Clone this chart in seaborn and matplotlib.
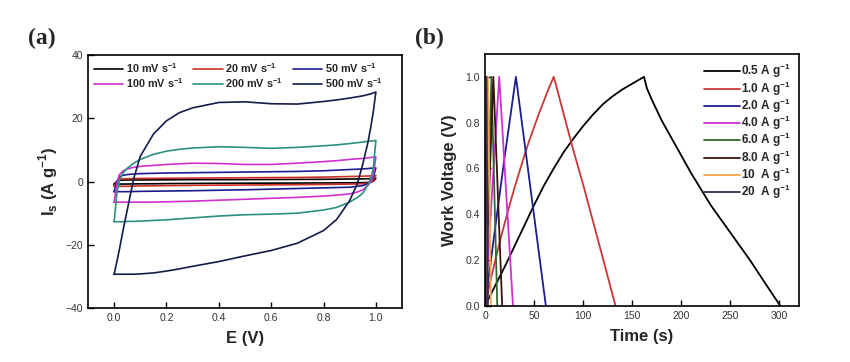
import numpy as np
import pandas as pd
import seaborn as sns
import matplotlib.pyplot as plt

# ---- CV data (a): current at each potential, forward (upper) and reverse (lower) sweep
E_pts = [0.0, 0.01, 0.02, 0.035, 0.05, 0.075, 0.1, 0.15, 0.2, 0.25, 0.3, 0.4,
         0.5, 0.6, 0.7, 0.8, 0.85, 0.9, 0.93, 0.95, 0.97, 0.98, 0.99, 1.0]

cv_rates = ['10 mV s$^{\\mathbf{-1}}$', '20 mV s$^{\\mathbf{-1}}$', '50 mV s$^{\\mathbf{-1}}$',
            '100 mV s$^{\\mathbf{-1}}$', '200 mV s$^{\\mathbf{-1}}$', '500 mV s$^{\\mathbf{-1}}$']
cv_colors = ['#000000', '#cc3026', '#1c1c8f', '#d030d0', '#2a8f80', '#141c4c']

up_10 = [-0.8, 0.0, 0.4, 0.45, 0.5, 0.5, 0.5, 0.52, 0.55, 0.57, 0.6, 0.6,
         0.62, 0.65, 0.68, 0.7, 0.75, 0.8, 0.83, 0.85, 0.9, 0.93, 0.96, 1.0]
lo_10 = [-0.8, -0.8, -0.8, -0.8, -0.78, -0.75, -0.72, -0.7, -0.65, -0.62, -0.6, -0.55,
         -0.52, -0.5, -0.48, -0.45, -0.42, -0.4, -0.38, -0.35, -0.3, -0.2, 0.1, 1.0]
up_20 = [-1.5, -0.2, 0.8, 0.85, 0.9, 0.95, 1.0, 1.0, 1.05, 1.05, 1.1, 1.15,
         1.2, 1.25, 1.3, 1.4, 1.5, 1.6, 1.65, 1.7, 1.75, 1.8, 1.85, 1.9]
lo_20 = [-1.5, -1.5, -1.5, -1.5, -1.5, -1.45, -1.4, -1.35, -1.3, -1.25, -1.2, -1.15,
         -1.1, -1.05, -1.0, -0.9, -0.85, -0.8, -0.75, -0.7, -0.5, -0.3, 0.3, 1.9]
up_50 = [-3.2, 0.0, 1.5, 2.0, 2.2, 2.4, 2.5, 2.6, 2.7, 2.75, 2.8, 2.9,
         3.0, 3.1, 3.2, 3.4, 3.6, 3.8, 3.9, 4.0, 4.1, 4.2, 4.25, 4.3]
lo_50 = [-3.2, -3.2, -3.2, -3.2, -3.2, -3.15, -3.1, -3.05, -3.0, -2.95, -2.9, -2.75,
         -2.6, -2.4, -2.2, -2.0, -1.9, -1.8, -1.5, -1.3, -0.6, 0.0, 1.2, 4.3]
up_100 = [-6.5, -1.0, 2.2, 3.4, 4.0, 4.5, 4.8, 5.1, 5.4, 5.6, 5.8, 5.7,
          5.4, 5.4, 5.8, 6.3, 6.6, 7.0, 7.2, 7.3, 7.5, 7.6, 7.7, 7.8]
lo_100 = [-6.5, -6.5, -6.5, -6.5, -6.5, -6.5, -6.5, -6.5, -6.4, -6.3, -6.2, -5.9,
          -5.6, -5.3, -5.0, -4.6, -4.3, -3.9, -3.3, -2.6, -1.2, 0.0, 2.0, 7.8]
up_200 = [-12.7, -4.0, 0.5, 2.8, 4.2, 5.8, 7.0, 8.6, 9.6, 10.2, 10.6, 11.0,
          10.8, 10.5, 10.8, 11.3, 11.6, 12.0, 12.3, 12.5, 12.7, 12.8, 12.9, 13.0]
lo_200 = [-12.7, -12.7, -12.7, -12.7, -12.6, -12.6, -12.5, -12.3, -12.1, -11.8, -11.5, -10.9,
          -10.5, -10.3, -10.0, -9.0, -8.2, -6.5, -5.0, -3.7, -1.0, 1.0, 4.0, 13.0]
up_500 = [-29.3, -25.5, -21.5, -15.0, -9.0, 1.0, 8.0, 15.0, 19.2, 21.8, 23.3, 25.0,
          25.2, 24.6, 24.5, 25.3, 25.8, 26.4, 26.8, 27.1, 27.5, 27.7, 28.0, 28.3]
lo_500 = [-29.3, -29.3, -29.3, -29.3, -29.3, -29.3, -29.2, -28.9, -28.3, -27.6, -26.8, -25.3,
          -23.5, -21.8, -19.5, -15.5, -12.0, -6.0, -0.5, 5.5, 12.5, 17.0, 22.0, 28.3]

cv_up = [up_10, up_20, up_50, up_100, up_200, up_500]
cv_lo = [lo_10, lo_20, lo_50, lo_100, lo_200, lo_500]

# ---- GCD data (b): time (s) and voltage (V) for each current density
gcd_labels = ['0.5 A g$^{\\mathbf{-1}}$', '1.0 A g$^{\\mathbf{-1}}$', '2.0 A g$^{\\mathbf{-1}}$',
              '4.0 A g$^{\\mathbf{-1}}$', '6.0 A g$^{\\mathbf{-1}}$', '8.0 A g$^{\\mathbf{-1}}$',
              '10  A g$^{\\mathbf{-1}}$', '20  A g$^{\\mathbf{-1}}$']
gcd_colors = ['#000000', '#c83838', '#1c1c8f', '#d030d0', '#2f6a30', '#3a1212', '#f0a848', '#3c2a50']

t_05 = [0, 10, 20, 30, 40, 50, 60, 70, 80, 90, 100, 110, 120, 130, 140, 150, 162,
        165, 170, 180, 195, 210, 230, 250, 270, 290, 301]
v_05 = [0, 0.085, 0.17, 0.26, 0.35, 0.44, 0.525, 0.6, 0.67, 0.73, 0.785, 0.835, 0.88,
        0.915, 0.945, 0.97, 1.0, 0.95, 0.9, 0.81, 0.695, 0.58, 0.44, 0.32, 0.2, 0.07, 0.0]
t_1 = [0, 5, 10, 15, 20, 25, 30, 35, 40, 45, 50, 55, 60, 65, 70,
       72, 80, 90, 100, 110, 120, 133]
v_1 = [0, 0.1, 0.19, 0.28, 0.36, 0.44, 0.515, 0.585, 0.655, 0.72, 0.78, 0.84, 0.895, 0.95, 1.0,
       0.97, 0.84, 0.68, 0.53, 0.37, 0.21, 0.0]
t_2 = [0, 10, 20, 31.5, 62]
v_2 = [0, 0.33, 0.65, 1.0, 0.0]
t_4 = [0, 14.5, 28.5]
v_4 = [0, 1.0, 0.0]
t_6 = [0, 6.5, 12.5]
v_6 = [0, 1.0, 0.0]
t_8 = [0, 8.5, 17.5]
v_8 = [0, 1.0, 0.0]
t_10 = [0, 3, 6]
v_10 = [0, 1.0, 0.0]
t_20 = [0, 1.5, 3]
v_20 = [0, 1.0, 0.0]

gcd_t = [t_05, t_1, t_2, t_4, t_6, t_8, t_10, t_20]
gcd_v = [v_05, v_1, v_2, v_4, v_6, v_8, v_10, v_20]

# build long tables (loop order kept, seaborn told not to sort)
rows = []
for lab, up, lo in zip(cv_rates, cv_up, cv_lo):
    for e, i in zip(E_pts, up):
        rows.append((lab, e, i))
    for e, i in zip(E_pts[::-1], lo[::-1]):
        rows.append((lab, e, i))
cv_df = pd.DataFrame(rows, columns=['rate', 'E', 'I'])

rows = []
for lab, t, v in zip(gcd_labels, gcd_t, gcd_v):
    for a, b in zip(t, v):
        rows.append((lab, a, b))
gcd_df = pd.DataFrame(rows, columns=['current', 't', 'V'])

sns.set_style('ticks')
plt.rcParams['font.family'] = ['Liberation Sans', 'DejaVu Sans']
plt.rcParams['mathtext.fontset'] = 'custom'
plt.rcParams['mathtext.rm'] = 'Liberation Sans'
plt.rcParams['mathtext.bf'] = 'Liberation Sans:bold'
plt.rcParams['axes.linewidth'] = 1.2
plt.rcParams['xtick.direction'] = 'in'
plt.rcParams['ytick.direction'] = 'in'

fig = plt.figure(figsize=(8.5, 3.62), dpi=100)
ax1 = fig.add_axes([0.1035, 0.149, 0.3695, 0.699])
ax2 = fig.add_axes([0.5706, 0.155, 0.3694, 0.696])

# (a) CV curves
sns.lineplot(data=cv_df, x='E', y='I', hue='rate', palette=cv_colors, sort=False,
             estimator=None, linewidth=1.2, ax=ax1)
ax1.set_xlim(-0.1, 1.1)
ax1.set_ylim(-40, 40)
ax1.set_xticks([0.0, 0.2, 0.4, 0.6, 0.8, 1.0])
ax1.set_yticks([-40, -20, 0, 20, 40])
ax1.set_xlabel('E (V)', fontsize=12, fontweight='bold', labelpad=6)
ax1.set_ylabel('I$_\\mathbf{s}$ (A g$^{\\mathbf{-1}}$)', fontsize=12, fontweight='bold', labelpad=4)
h, l = ax1.get_legend_handles_labels()
order = [0, 3, 1, 4, 2, 5]   # row-wise filling: 10 20 50 / 100 200 500
ax1.legend([h[i] for i in order], [l[i] for i in order], loc='upper left', ncol=3,
           frameon=False, prop={'weight': 'bold', 'size': 7.8}, handlelength=2.7,
           columnspacing=0.9, handletextpad=0.25, labelspacing=0.15, borderaxespad=0.15)

# (b) GCD curves
sns.lineplot(data=gcd_df, x='t', y='V', hue='current', palette=gcd_colors, sort=False,
             estimator=None, linewidth=1.3, ax=ax2)
ax2.set_xlim(0, 320)
ax2.set_ylim(0, 1.1)
ax2.set_xticks([0, 50, 100, 150, 200, 250, 300])
ax2.set_yticks([0.0, 0.2, 0.4, 0.6, 0.8, 1.0])
ax2.set_xlabel('Time (s)', fontsize=12, fontweight='bold', labelpad=6)
ax2.set_ylabel('Work Voltage (V)', fontsize=12, fontweight='bold', labelpad=6)
ax2.legend(loc='upper right', frameon=False, prop={'weight': 'bold', 'size': 8.5},
           handlelength=3.0, handletextpad=0.1, labelspacing=-0.08, borderaxespad=0.3)

for ax in (ax1, ax2):
    ax.tick_params(labelsize=7.5, length=4, width=1, colors='black', labelcolor='#333333')
    for s in ax.spines.values():
        s.set_visible(True)
        s.set_color('black')

fig.text(0.049, 0.895, '(a)', fontsize=17, fontweight='bold', family='Liberation Serif',
         ha='center', va='center')
fig.text(0.505, 0.895, '(b)', fontsize=17, fontweight='bold', family='Liberation Serif',
         ha='center', va='center')

plt.savefig('out.png', dpi=100)
